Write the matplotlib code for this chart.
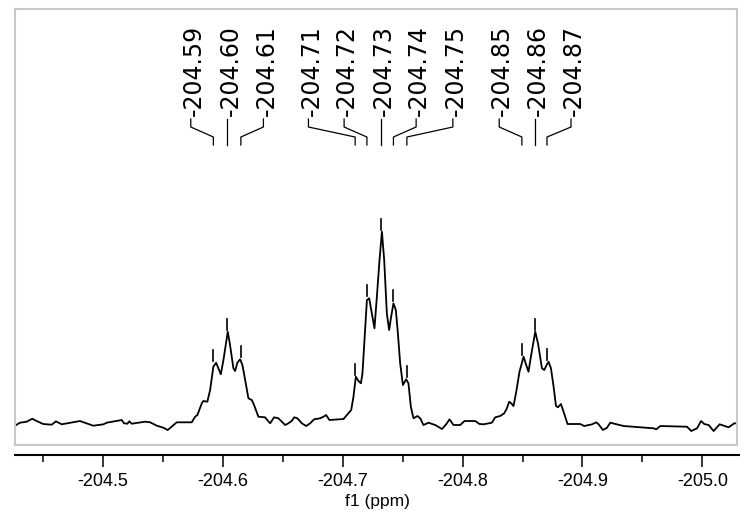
import matplotlib
matplotlib.use("Agg")
import matplotlib.pyplot as plt
import matplotlib.transforms as mtransforms
from matplotlib.ticker import MultipleLocator, FormatStrFormatter
import numpy as np

plt.rcParams['axes.unicode_minus'] = False

# %% Spectrum, shift in ppm and intensity in arbitrary units
ppm = [-204.4267, -204.4308, -204.4364, -204.4411, -204.4447, -204.4502, -204.4572, -204.4608,
       -204.4656, -204.4808, -204.4919, -204.5003, -204.5031, -204.5156, -204.5175, -204.5203,
       -204.5219, -204.5239, -204.5350, -204.5392, -204.5448, -204.5503, -204.5539, -204.5614,
       -204.5739, -204.5767, -204.5786, -204.5823, -204.5836, -204.5869, -204.5892, -204.5919,
       -204.5942, -204.5961, -204.5981, -204.6003, -204.6039, -204.6058, -204.6086, -204.6100,
       -204.6119, -204.6142, -204.6161, -204.6189, -204.6211, -204.6239, -204.6258, -204.6294,
       -204.6350, -204.6373, -204.6392, -204.6425, -204.6461, -204.6489, -204.6517, -204.6544,
       -204.6573, -204.6592, -204.6619, -204.6656, -204.6692, -204.6725, -204.6758, -204.6808,
       -204.6836, -204.6858, -204.6886, -204.6975, -204.7003, -204.7044, -204.7067, -204.7086,
       -204.7106, -204.7128, -204.7148, -204.7161, -204.7178, -204.7198, -204.7217, -204.7239,
       -204.7261, -204.7281, -204.7303, -204.7323, -204.7342, -204.7364, -204.7383, -204.7400,
       -204.7419, -204.7439, -204.7456, -204.7475, -204.7498, -204.7525, -204.7544, -204.7564,
       -204.7586, -204.7619, -204.7642, -204.7669, -204.7711, -204.7767, -204.7823, -204.7858,
       -204.7886, -204.7919, -204.7975, -204.8011, -204.8100, -204.8136, -204.8169, -204.8239,
       -204.8267, -204.8308, -204.8342, -204.8364, -204.8383, -204.8400, -204.8419, -204.8442,
       -204.8469, -204.8503, -204.8525, -204.8544, -204.8564, -204.8600, -204.8623, -204.8656,
       -204.8675, -204.8698, -204.8711, -204.8731, -204.8753, -204.8773, -204.8789, -204.8814,
       -204.8836, -204.8869, -204.8975, -204.9008, -204.9073, -204.9108, -204.9128, -204.9164,
       -204.9198, -204.9225, -204.9336, -204.9586, -204.9608, -204.9642, -204.9864, -204.9900,
       -204.9948, -204.9981, -205.0008, -205.0044, -205.0086, -205.0136, -205.0211, -205.0258,
       -205.0281]
intensity = [-0.7, 2.3, 3.3, 6.3, 4.0, 1.0, 0.3, 3.7,
             0.7, 4.0, -0.7, 0.7, 2.3, 5.0, 1.7, 1.3,
             3.7, 1.3, 3.3, 2.7, -0.7, -2.7, -5.0, 2.7,
             2.7, 8.3, 10.0, 21.7, 24.0, 23.3, 35.0, 58.3,
             62.3, 56.7, 50.7, 65.0, 93.3, 80.0, 56.7, 54.0,
             62.3, 65.7, 60.0, 41.7, 26.7, 25.0, 20.0, 8.3,
             7.7, 4.3, 1.7, 7.7, 6.7, 3.3, 0.0, 1.7,
             4.3, 7.7, 6.7, 1.7, -1.0, 1.7, 5.7, 6.7,
             8.3, 10.0, 5.0, 5.7, 6.0, 11.7, 15.0, 28.3,
             48.3, 44.0, 41.7, 51.7, 85.0, 125.0, 126.7, 111.7,
             96.7, 128.3, 165.0, 193.3, 165.0, 111.7, 95.0, 108.3,
             121.7, 115.0, 91.7, 61.7, 40.0, 45.7, 41.7, 18.3,
             6.7, 9.0, 6.7, 0.0, 2.3, 0.0, -4.0, 0.7,
             5.7, 0.0, 0.0, 4.0, 4.0, 1.0, 0.7, 2.3,
             7.7, 9.0, 11.7, 16.7, 23.3, 21.7, 19.0, 33.3,
             53.3, 68.3, 60.0, 53.3, 68.3, 93.3, 81.7, 56.7,
             55.0, 60.7, 63.3, 56.7, 38.3, 19.0, 17.7, 21.0,
             13.3, 1.0, 1.0, -1.0, 0.7, 2.7, 0.7, -5.0,
             -2.7, 2.3, -1.0, -3.3, -4.3, -1.0, -1.7, -6.0,
             -3.3, 4.0, 1.0, 0.0, -6.0, 0.7, -2.3, 1.7,
             1.7]

# %% Peak picking
peak_labels = ['-204.59', '-204.60', '-204.61', '-204.71', '-204.72', '-204.73',
               '-204.74', '-204.75', '-204.85', '-204.86', '-204.87']
peak_ppm = [-204.5919, -204.6036, -204.6148, -204.7100, -204.7198, -204.7314,
            -204.7419, -204.7531, -204.8489, -204.8600, -204.8698]
label_ppm = [-204.5731, -204.6036, -204.6336, -204.6711, -204.7008, -204.7314,
             -204.7608, -204.7914, -204.8300, -204.8600, -204.8898]

ppm = np.array(ppm)
intensity = np.array(intensity)

# %% Figure
fig = plt.figure(figsize=(7.4, 5.15), dpi=100)
ax = fig.add_axes([0.0203, 0.1359, 0.9757, 0.8466])
ax.plot(ppm, intensity, color='black', linewidth=1.3)
ax.set_xlim(-204.4267, -205.0281)
ax.set_ylim(-20, 416)
ax.set_xticks([])
ax.set_yticks([])
for s in ax.spines.values():
    s.set_color('#c8c8c8')
    s.set_linewidth(1.5)

# peak marks just above each peak
for p in peak_ppm:
    win = np.abs(ppm - p) < 0.0025
    top = intensity[win].max()
    ax.plot([p, p], [top + 2, top + 13], color='black', linewidth=1.2)

# bent connectors and labels at the top
trans = mtransforms.blended_transform_factory(ax.transData, ax.transAxes)
text_trans = mtransforms.offset_copy(trans, fig=fig, x=3, y=0, units='dots')
for lab, p, lp in zip(peak_labels, peak_ppm, label_ppm):
    ax.plot([lp, lp, p, p], [0.7477, 0.7294, 0.7064, 0.6881], transform=trans,
            color='black', linewidth=0.9, clip_on=False)
    ax.text(lp, 0.7546, lab, transform=text_trans, rotation=90, ha='center', va='bottom',
            fontsize=17, family='DejaVu Sans')

# %% ppm axis below the frame
ax2 = fig.add_axes([0.0203, 0.1165, 0.9797, 0.0001])
ax2.set_xlim(-204.4267, -205.0281 - 0.0033)
ax2.set_yticks([])
for k in ['left', 'right', 'top']:
    ax2.spines[k].set_visible(False)
ax2.spines['bottom'].set_linewidth(1.5)
ax2.xaxis.set_major_locator(MultipleLocator(0.1))
ax2.xaxis.set_minor_locator(MultipleLocator(0.05))
ax2.xaxis.set_major_formatter(FormatStrFormatter('%.1f'))
ax2.tick_params(axis='x', which='major', direction='out', length=8.6, width=1.1, pad=4,
                labelsize=13)
ax2.tick_params(axis='x', which='minor', direction='out', length=5, width=1.1)
for t in ax2.get_xticklabels():
    t.set_family('Liberation Sans')
ax2.set_xlabel('f1 (ppm)', fontsize=12.5, family='Liberation Sans', labelpad=3)

fig.savefig('out.png', dpi=100)
